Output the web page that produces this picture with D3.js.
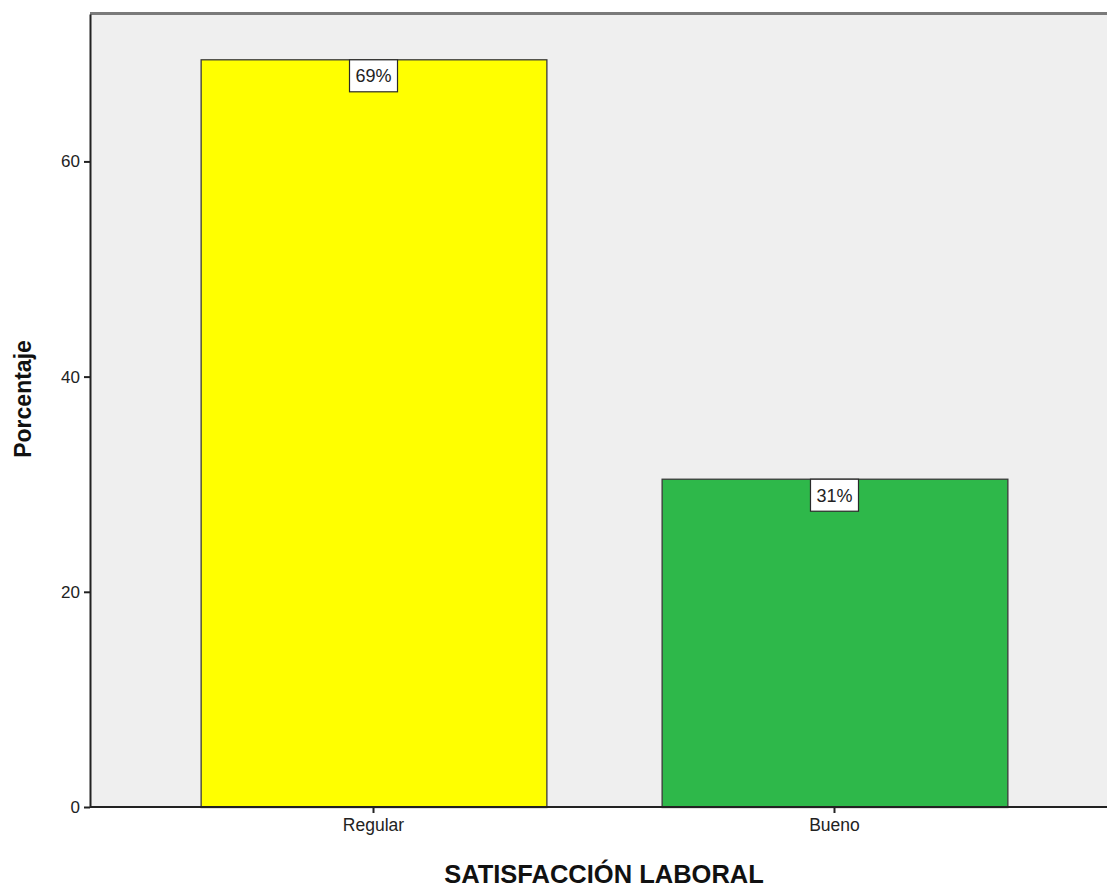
<!DOCTYPE html>
<html>
<head>
<meta charset="utf-8">
<script src="https://cdn.jsdelivr.net/npm/d3@7"></script>
<style>
  html, body { margin: 0; padding: 0; background: #ffffff; }
  svg { display: block; }
</style>
</head>
<body>
<script>
// Satisfacción laboral: percentage per category
const categories = ["Regular", "Bueno"];
const percentages = [69.49, 30.51];
const barColors = ["#ffff00", "#2eb84a"];
const yTicks = [0, 20, 40, 60];

const W = 1107, H = 890;
const plot = { left: 90, top: 14, right: 1118, bottom: 807 };
const FONT = "Liberation Sans, Arial, sans-serif";

const svg = d3.select("body").append("svg")
  .attr("width", W).attr("height", H);

const x = d3.scaleBand()
  .domain(categories)
  .range([plot.left, plot.right])
  .paddingInner(0.25)
  .paddingOuter(0.24);

const y = d3.scaleLinear()
  .domain([0, 73.7])
  .range([plot.bottom, plot.top]);

// plot background
svg.append("rect")
  .attr("x", plot.left).attr("y", plot.top)
  .attr("width", plot.right - plot.left).attr("height", plot.bottom - plot.top)
  .attr("fill", "#efefef");

// frame top line
svg.append("line")
  .attr("x1", plot.left).attr("x2", plot.right)
  .attr("y1", plot.top - 0.5).attr("y2", plot.top - 0.5)
  .attr("stroke", "#7a7a7a").attr("stroke-width", 3);

// bars
const data = categories.map((c, i) => ({ c, v: percentages[i], color: barColors[i] }));
svg.selectAll("rect.bar").data(data).enter().append("rect")
  .attr("class", "bar")
  .attr("x", d => x(d.c) + 0.5)
  .attr("y", d => y(d.v) + 0.5)
  .attr("width", x.bandwidth())
  .attr("height", d => y(0) - y(d.v))
  .attr("fill", d => d.color)
  .attr("stroke", "#3a3a3a")
  .attr("stroke-width", 1.3);

// value labels
const lbl = svg.selectAll("g.lbl").data(data).enter().append("g")
  .attr("class", "lbl")
  .attr("transform", d => `translate(${x(d.c) + x.bandwidth() / 2},${y(d.v)})`);
lbl.append("rect")
  .attr("x", -24).attr("y", 0.5)
  .attr("width", 48).attr("height", 32)
  .attr("fill", "#ffffff")
  .attr("stroke", "#2a2a2a").attr("stroke-width", 1.2);
lbl.append("text")
  .attr("y", 23)
  .attr("text-anchor", "middle")
  .attr("font-family", FONT)
  .attr("font-size", 18)
  .attr("fill", "#222")
  .text(d => Math.round(d.v) + "%");

// y axis
const yAxis = d3.axisLeft(y).tickValues(yTicks).tickSize(6).tickSizeOuter(0).tickPadding(4);
const gy = svg.append("g")
  .attr("transform", `translate(${plot.left},0)`)
  .call(yAxis);
gy.select(".domain").attr("stroke", "#222").attr("stroke-width", 2);
gy.selectAll(".tick line").attr("stroke", "#222").attr("stroke-width", 2);
gy.selectAll(".tick text")
  .attr("font-family", FONT)
  .attr("font-size", 17).attr("fill", "#222");

// x axis
const xAxis = d3.axisBottom(x).tickSize(6).tickSizeOuter(0).tickPadding(6);
const gx = svg.append("g")
  .attr("transform", `translate(0,${plot.bottom})`)
  .call(xAxis);
gx.select(".domain").attr("stroke", "#222").attr("stroke-width", 2)
  .attr("d", `M${plot.left},0H${plot.right}`);
gx.selectAll(".tick line").attr("stroke", "#222").attr("stroke-width", 2);
gx.selectAll(".tick text")
  .attr("font-family", FONT)
  .attr("font-size", 17.5).attr("fill", "#222");

// axis titles
svg.append("text")
  .attr("transform", "translate(31,399) rotate(-90)")
  .attr("text-anchor", "middle")
  .attr("font-family", FONT)
  .attr("font-weight", "bold")
  .attr("font-size", 23)
  .attr("fill", "#111")
  .text("Porcentaje");

svg.append("text")
  .attr("x", 604).attr("y", 883)
  .attr("text-anchor", "middle")
  .attr("font-family", FONT)
  .attr("font-weight", "bold")
  .attr("font-size", 25.5)
  .attr("fill", "#111")
  .text("SATISFACCIÓN LABORAL");
</script>
</body>
</html>
